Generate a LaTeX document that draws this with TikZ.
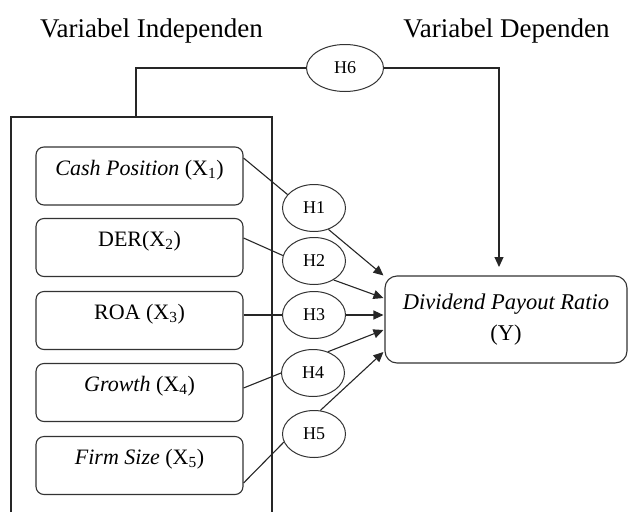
\documentclass[tikz,border=0pt]{standalone}
\usepackage{fontspec}
\setmainfont{Liberation Serif}
\usetikzlibrary{arrows.meta,shapes.geometric}
\begin{document}
\begin{tikzpicture}[x=1pt,y=-1pt,
  ln/.style={line width=1.1pt, draw=black!85},
  arr/.style={ln, -{Triangle[length=10pt,width=9pt]}},
  varbox/.style={draw=black!80, line width=1.1pt, rounded corners=8pt,
    minimum width=207pt, inner xsep=0pt, inner ysep=6pt,
    text height=22pt, text depth=24pt, font=\fontsize{22}{26}\selectfont},
  hyp/.style={draw=black!80, ellipse, line width=1pt, minimum width=63pt,
    minimum height=47pt, inner sep=0pt, font=\fontsize{18}{20}\selectfont},
  depbox/.style={draw=black!80, line width=1.1pt, rounded corners=12pt,
    minimum width=242pt, minimum height=87pt, align=center,
    font=\fontsize{22.5}{31}\selectfont},
  title/.style={anchor=base, font=\fontsize{27}{30}\selectfont}
]
\useasboundingbox (0,0) rectangle (629,512);

% titles
\node[title] (t1) at (151.5,37) {Variabel Independen};
\node[title] (t2) at (506.5,37) {Variabel Dependen};

% container of independent variables
\coordinate (bbl) at (11,512);
\coordinate (btl) at (11,117);
\coordinate (btr) at (272,117);
\coordinate (bbr) at (272,512);
\coordinate (bxtop) at (136,117);
\draw[ln] (bbl) -- (btl) -- (btr) -- (bbr);

% independent variables
\node[varbox] (b1) at (139.5,176) {\textit{Cash Position} (X\textsubscript{1})};
\node[varbox] (b2) at (139.5,247.5) {DER(X\textsubscript{2})};
\node[varbox] (b3) at (139.5,320.5) {ROA (X\textsubscript{3})};
\node[varbox] (b4) at (139.5,392.5) {\textit{Growth} (X\textsubscript{4})};
\node[varbox] (b5) at (139.5,465.5) {\textit{Firm Size} (X\textsubscript{5})};

% hypotheses
\node[hyp] (h1) at (314,208) {H1};
\node[hyp] (h2) at (314,261) {H2};
\node[hyp] (h3) at (314,315) {H3};
\node[hyp] (h4) at (313,373) {H4};
\node[hyp] (h5) at (314,434) {H5};
\node[hyp, minimum width=77pt] (h6) at (345,68) {H6};

% dependent variable
\node[depbox] (y) at (506,319.5) {\textit{Dividend Payout Ratio}\\(Y)};
\coordinate (ytop) at (499,276);

% connectors
\draw[ln] ([yshift=18pt]b1.east) -- (h1.153);
\draw[ln] ([yshift=9.5pt]b2.east) -- (h2.170);
\draw[ln] (b3.east |- h3.west) -- (h3.west);
\draw[ln] ([yshift=4.5pt]b4.east) -- (h4.west);
\draw[ln] ([yshift=-17.5pt]b5.east) -- (h5.195);

\draw[arr] (h1.304) -- ([xshift=-1pt]y.north west);
\draw[arr] (h2.316) -- ([shift={(-1pt,21.5pt)}]y.west);
\draw[arr] (h3.east) -- ([xshift=-1pt]h3.east -| y.west);
\draw[arr] (h4.55) -- ([shift={(-1pt,-10.5pt)}]y.west);
\draw[arr] (h5.75) -- ([shift={(-1pt,-32.5pt)}]y.west);

\draw[ln] (bxtop) |- (h6.west);
\draw[arr, shorten >=9pt] (h6.east) -| (ytop);
\end{tikzpicture}
\end{document}
